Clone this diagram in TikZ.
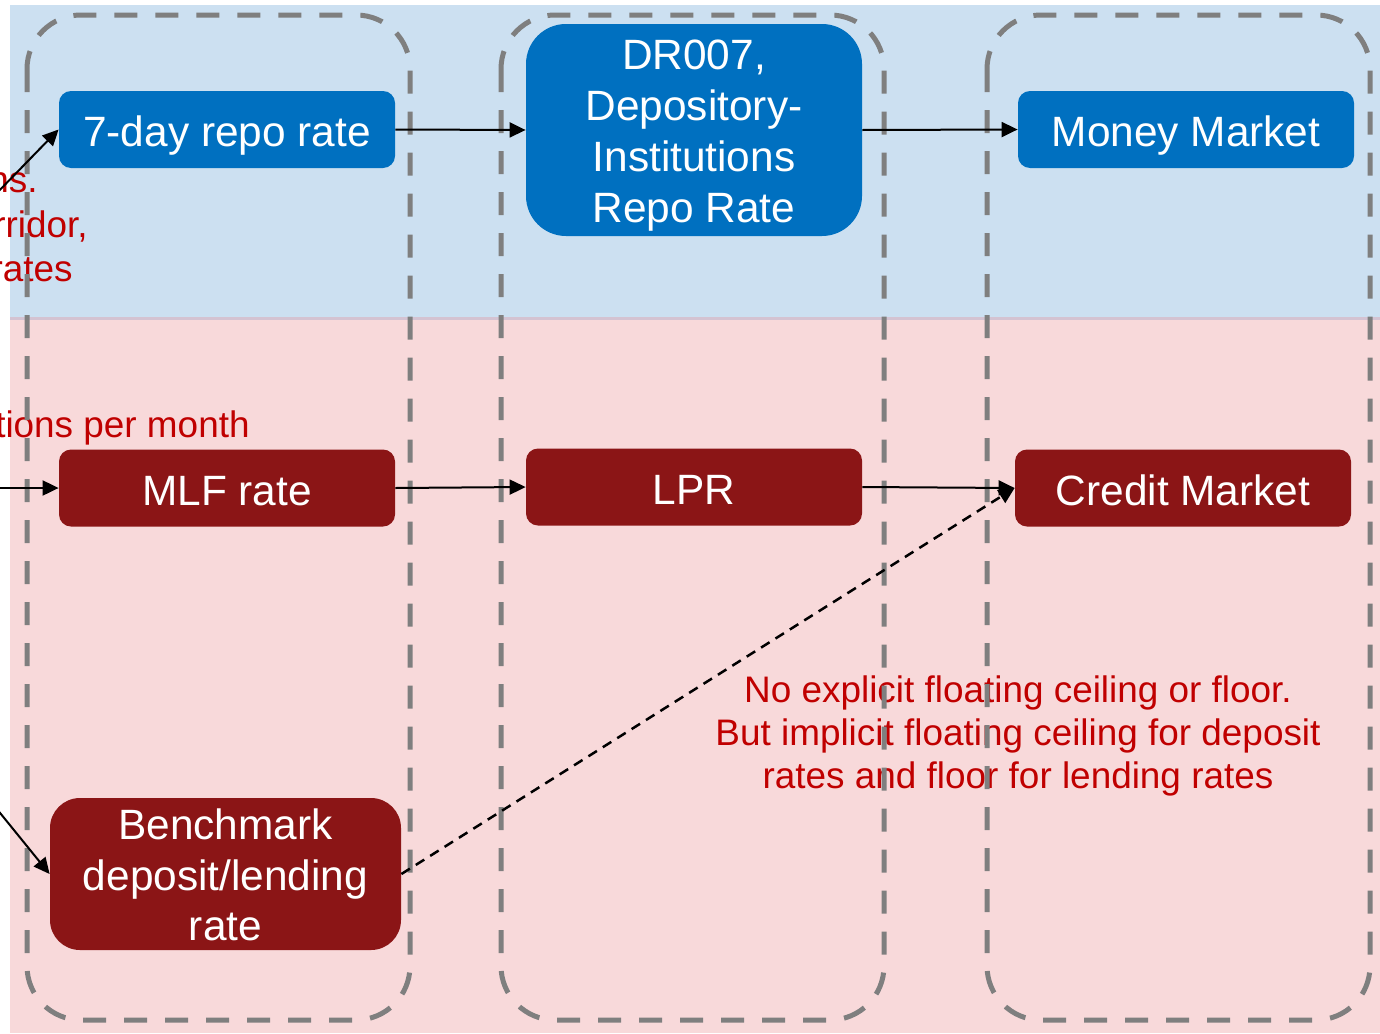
\documentclass[tikz,border=0pt]{standalone}
\usepackage{fontspec}
\setmainfont{Liberation Sans}
\usetikzlibrary{arrows.meta}
\definecolor{bgblue}{HTML}{CCE0F1}
\definecolor{bgpink}{HTML}{F8D9DA}
\definecolor{sepline}{HTML}{D4C3D2}
\definecolor{boxblue}{HTML}{0070C0}
\definecolor{boxred}{HTML}{8B1516}
\definecolor{notered}{HTML}{C00000}
\definecolor{colgray}{HTML}{7F7F7F}
\newcommand{\myboxfont}{\fontsize{21.2pt}{25.4pt}\selectfont}
\newcommand{\mynotefont}{\fontsize{18.45pt}{21.5pt}\selectfont}
\tikzset{
  colframe/.style={draw=colgray, line width=2.5pt, dash pattern=on 11.5pt off 9pt, rounded corners=27pt},
  onebox/.style={minimum width=168pt, minimum height=38.5pt, inner sep=0pt,
    text height=17pt, text depth=0pt, rounded corners=6pt, text=white, font=\myboxfont},
  multibox/.style={inner sep=0pt, align=center, text=white, font=\myboxfont},
  arr/.style={-{Triangle[length=8pt,width=7.5pt]}, line width=1pt, black},
  dasharr/.style={-{Triangle[length=8pt,width=7.5pt]}, line width=1.25pt, black, dash pattern=on 5pt off 3.5pt},
  note/.style={text=notered, font=\mynotefont, inner sep=0pt}
}
\begin{document}
\begin{tikzpicture}[x=0.5pt,y=-0.5pt]
\useasboundingbox (0,0) rectangle (1380,1033);
\fill[white] (0,0) rectangle (1380,1033);
% backgrounds
\fill[bgblue] (10,5) rectangle (1380,317);
\fill[bgpink] (10,319) rectangle (1380,1033);
\draw[sepline, line width=1.5pt] (10,318) -- (1380,318);

% notes
\node[note, anchor=base east] (n1) at (38,192) {ns.};
\node[note, anchor=base east] (n2) at (88,237) {rridor,};
\node[note, anchor=base east] (n3) at (73,281) {rates};
\node[note, anchor=base east] (n4) at (250,437) {tions per month};
\node[note, align=center] (n5) at (1018,745)
  {\rule{0pt}{15pt}No explicit floating ceiling or floor.\\
   But implicit floating ceiling for deposit\\
   rates and floor for lending rates\rule[-15pt]{0pt}{15pt}};

% columns
\draw[colframe] (27,15) rectangle (410,1020);
\draw[colframe] (501,15) rectangle (884,1020);
\draw[colframe] (987,15) rectangle (1370,1020);

% boxes
\node[onebox, fill=boxblue] (r7) at (227,129.5) {7-day repo rate};
\node[multibox, fill=boxblue, minimum width=168pt, minimum height=106pt, rounded corners=20pt] (dr) at (694,130)
  {\rule{0pt}{21.25pt}DR007,\\Depository-\\Institutions\\Repo Rate\rule[-5.25pt]{0pt}{5.25pt}};
\node[onebox, fill=boxblue] (mm) at (1186,129.5) {Money Market};
\node[onebox, fill=boxred] (mlf) at (227,488) {MLF rate};
\node[onebox, fill=boxred] (lpr) at (694,487) {LPR};
\node[onebox, fill=boxred] (cm) at (1183,488) {Credit Market};
\node[multibox, fill=boxred, minimum width=175.5pt, minimum height=76pt, rounded corners=15pt] (bm) at (225.5,874)
  {\rule{0pt}{19.5pt}Benchmark\\deposit/lending\\rate\rule[-3.5pt]{0pt}{3.5pt}};

% incoming coordinates
\coordinate (in1) at (-8,198);
\coordinate (in2) at (-6,488);
\coordinate (in3) at (-8,803);

% arrows
\draw[arr] (in1) -- (r7.west);
\draw[arr] (in2) -- (mlf.west);
\draw[arr] (in3) -- (bm.west);
\draw[arr] (r7.east) -- (dr.west);
\draw[arr] (dr.east) -- (mm.west);
\draw[arr] (mlf.east) -- (lpr.west);
\draw[arr] (lpr.east) -- (cm.west);
\draw[dasharr] (bm.east) -- (cm.west);
\end{tikzpicture}
\end{document}
